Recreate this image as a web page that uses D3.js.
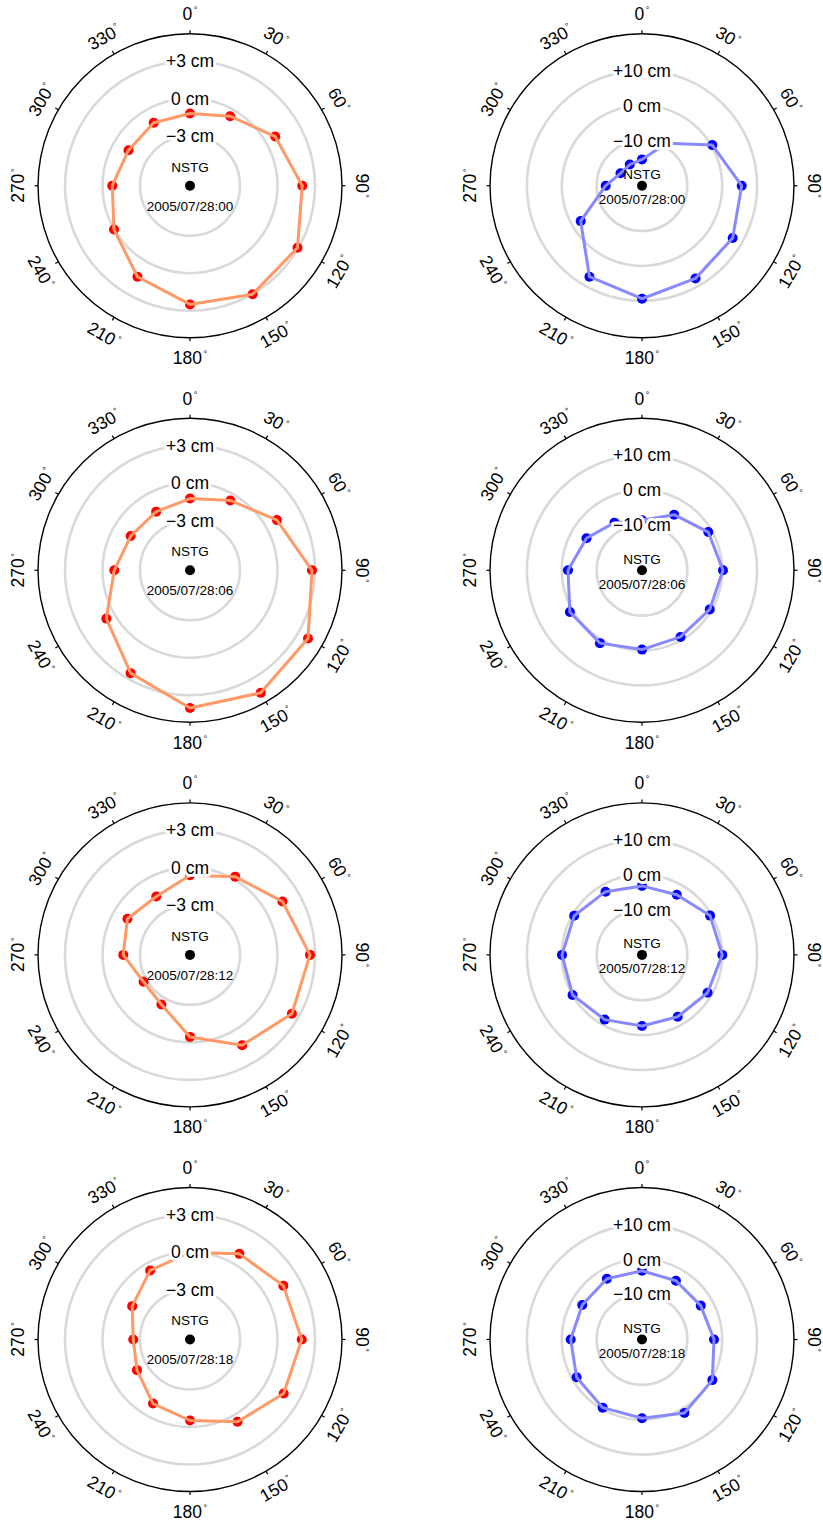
<!DOCTYPE html>
<html>
<head>
<meta charset="utf-8">
<script src="https://cdn.jsdelivr.net/npm/d3@7"></script>
<style>
  html, body { margin: 0; padding: 0; background: #fff; }
  svg { display: block; font-family: "Liberation Sans", Arial, Helvetica, sans-serif; }
</style>
</head>
<body>
<svg id="chart" width="823" height="1522"></svg>
<script>
// ---- data ----
const station = "NSTG";
const angles = [0, 30, 60, 90, 120, 150, 180, 210, 240, 270, 300, 330];
const epochs = ["2005/07/28:00", "2005/07/28:06", "2005/07/28:12", "2005/07/28:18"];

// left column (cm), ring ticks -3, 0, +3
const leftTicks = [-3, 0, 3];
const leftDomain = [-7, 5];
const left00 = [-1.22, -0.58, 0.87, 1.98, 2.93, 3.02, 2.50, 1.41, 0.02, -0.78, -1.32, -1.19];
const left06 = [-1.26, -0.55, 1.03, 2.76, 3.90, 4.32, 4.02, 2.50, 0.73, -0.94, -1.52, -1.58];
const left12 = [-0.62, 0.23, 1.54, 2.60, 2.41, 1.34, -0.44, -2.42, -2.71, -1.66, -1.22, -1.60];
const left18 = [-0.04, 0.91, 1.62, 1.94, 1.65, 0.60, -0.52, -1.08, -2.10, -2.46, -1.66, -0.62];

// right column (cm), ring ticks -10, 0, +10
const rightTicks = [-10, 0, 10];
const rightDomain = [-23, 20];
const right00 = [-15.46, -8.98, 0.28, 5.58, 7.02, 7.68, 9.40, 7.13, -2.70, -12.59, -15.89, -16.00];
const right06 = [-8.67, -4.59, -1.07, 0.22, -0.58, -0.95, -0.27, 1.11, 0.88, -1.78, -4.62, -7.23];
const right12 = [-3.22, -3.07, -0.47, 0.02, -1.30, -2.53, -2.64, -1.58, -0.01, -0.06, -0.55, -2.07];
const right18 = [-3.30, -3.56, -3.56, -2.36, 0.28, 1.31, -0.44, -0.44, -1.35, -2.56, -3.22, -2.87];

const leftSeries = [left00, left06, left12, left18];
const rightSeries = [right00, right06, right12, right18];

// ---- layout ----
const svg = d3.select("#chart");
const colX = [190, 642];
const rowY0 = 185.7, rowStep = 384.6;
const plotR = 150, frameR = 152, labelR = 172;

const fmtCm = d => (d > 0 ? "+" : d < 0 ? "\u2212" : "") + Math.abs(d) + " cm";
const styles = [
  { domain: leftDomain, ticks: leftTicks, line: "#ff9966", dot: "#ff0000", nameDy: -19, dateDy: 20 },
  { domain: rightDomain, ticks: rightTicks, line: "#8888ff", dot: "#0000ff", nameDy: -11.5, dateDy: 13.5 }
];

const aScale = d3.scaleLinear().domain([0, 360]).range([0, 2 * Math.PI]);

function drawPanel(g, st, values, epoch) {
  const r = d3.scaleLinear().domain(st.domain).range([0, plotR]);

  // grid rings
  g.selectAll("circle.ring").data(st.ticks).join("circle")
    .attr("class", "ring").attr("r", d => r(d))
    .attr("fill", "none").attr("stroke", "#d9d9d9").attr("stroke-width", 2.6);

  // frame
  g.append("circle").attr("r", frameR).attr("fill", "none")
    .attr("stroke", "#000").attr("stroke-width", 1.4);

  // angle ticks + labels
  const ag = g.selectAll("g.ang").data(angles).join("g").attr("class", "ang");
  ag.append("line")
    .attr("x1", d => frameR * Math.sin(aScale(d))).attr("y1", d => -frameR * Math.cos(aScale(d)))
    .attr("x2", d => (frameR + 3.5) * Math.sin(aScale(d))).attr("y2", d => -(frameR + 3.5) * Math.cos(aScale(d)))
    .attr("stroke", "#000").attr("stroke-width", 1.2);
  const lt = ag.append("text")
    .attr("transform", d => {
      const x = labelR * Math.sin(aScale(d)), y = -labelR * Math.cos(aScale(d));
      let rot = d;
      if (d > 90 && d < 270) rot = d - 180;
      else if (d >= 270) rot = d - 360;
      return `translate(${x},${y}) rotate(${rot})`;
    })
    .attr("text-anchor", "middle").attr("dy", "0.36em")
    .attr("font-size", 17.5).attr("fill", "#000");
  lt.append("tspan").text(d => d);
  lt.append("tspan").attr("font-size", 9).attr("dy", "-0.75em").attr("dx", 1.5).text("\u00b0");

  // data: dots under, line on top
  const pts = values.map((v, i) => [aScale(angles[i]), r(v)]);
  g.selectAll("circle.dot").data(pts).join("circle").attr("class", "dot")
    .attr("cx", d => d[1] * Math.sin(d[0])).attr("cy", d => -d[1] * Math.cos(d[0]))
    .attr("r", 5).attr("fill", st.dot);
  const lineGen = d3.lineRadial().angle(d => d[0]).radius(d => d[1]).curve(d3.curveLinearClosed);
  g.append("path").attr("d", lineGen(pts)).attr("fill", "none")
    .attr("stroke", st.line).attr("stroke-width", 3).attr("stroke-linejoin", "round");

  // ring labels with white halo
  g.selectAll("text.rl").data(st.ticks).join("text").attr("class", "rl")
    .attr("x", 0).attr("y", d => -r(d)).attr("dy", "0.36em")
    .attr("text-anchor", "middle").attr("font-size", 17.5)
    .attr("fill", "#000").attr("stroke", "#fff").attr("stroke-width", 6)
    .attr("paint-order", "stroke").attr("stroke-linejoin", "round")
    .text(fmtCm);

  // center
  g.append("circle").attr("r", 5).attr("fill", "#000");
  g.append("text").attr("y", st.nameDy).attr("dy", "0.36em").attr("text-anchor", "middle")
    .attr("font-size", 13.5).text(station);
  g.append("text").attr("y", st.dateDy).attr("dy", "0.36em").attr("text-anchor", "middle")
    .attr("font-size", 13.5).text(epoch);
}

epochs.forEach((ep, i) => {
  [leftSeries, rightSeries].forEach((series, c) => {
    const g = svg.append("g").attr("transform", `translate(${colX[c]},${rowY0 + i * rowStep})`);
    drawPanel(g, styles[c], series[i], ep);
  });
});
</script>
</body>
</html>
